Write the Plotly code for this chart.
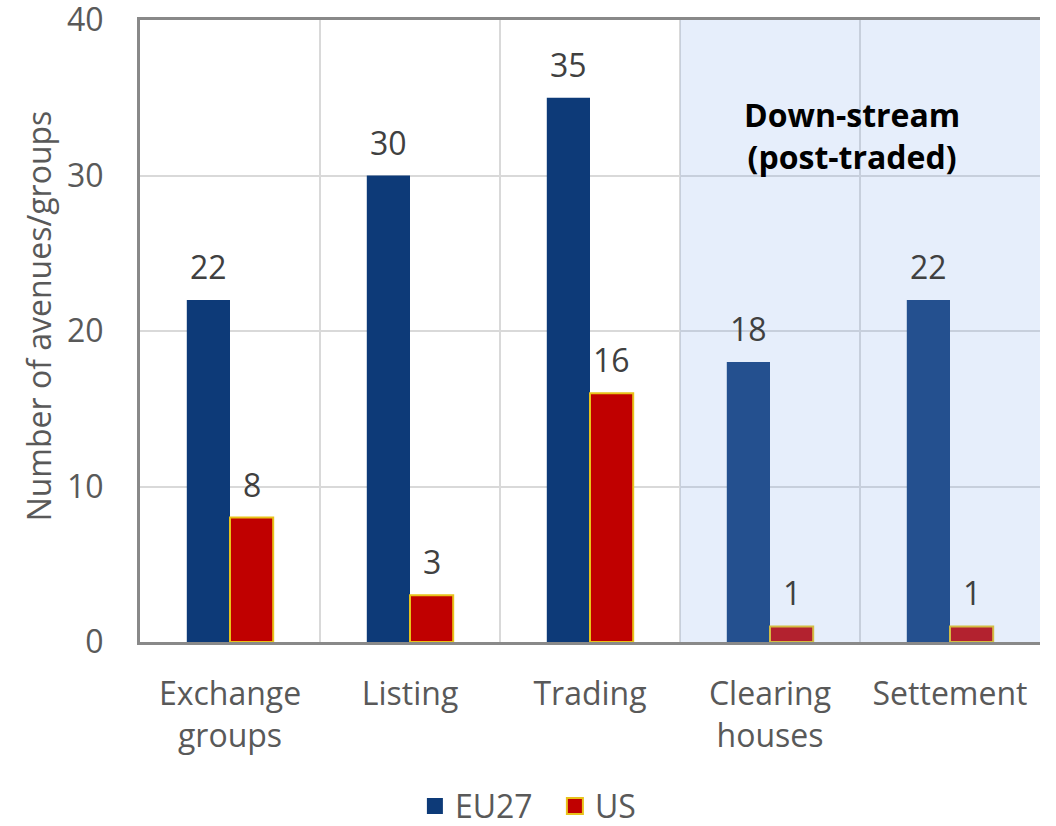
import plotly.graph_objects as go

categories = ["Exchange<br>groups", "Listing", "Trading", "Clearing<br>houses", "Settement"]
eu27 = [22, 30, 35, 18, 22]
us = [8, 3, 16, 1, 1]
y_ticks = [0, 10, 20, 30, 40]

FONT = "Open Sans"
FS = 32
EU_COLOR = "#0D3A78"
US_COLOR = "#C00000"
US_EDGE = "#E8C21A"

fig = go.Figure()
fig.add_trace(go.Bar(
    x=categories, y=eu27, name="EU27", showlegend=False,
    marker=dict(color=EU_COLOR, line=dict(width=0)),
))
fig.add_trace(go.Bar(
    x=categories, y=us, name="US", showlegend=False,
    marker=dict(color=US_COLOR, line=dict(width=2, color=US_EDGE)),
))

# legend entries with larger square symbols
fig.add_trace(go.Scatter(x=[None], y=[None], mode="markers", name="EU27",
                         marker=dict(symbol="square", size=16, color=EU_COLOR)))
fig.add_trace(go.Scatter(x=[None], y=[None], mode="markers", name="US",
                         marker=dict(symbol="square", size=16, color=US_COLOR,
                                     line=dict(width=2, color=US_EDGE))))

# data labels
for series, shift in ((eu27, -21.6), (us, 21.6)):
    for c, v in zip(categories, series):
        fig.add_annotation(x=c, y=v, xref="x", yref="y", text=str(v), showarrow=False,
                           xshift=shift, yshift=10, yanchor="bottom",
                           font=dict(size=FS, color="#404040", family=FONT))

fig.add_shape(type="rect", xref="x", yref="y", x0=2.5, x1=4.5, y0=0, y1=40,
              fillcolor="rgba(129,170,235,0.2)", line=dict(width=0), layer="above")

fig.add_annotation(x=3.455, y=32.6, xref="x", yref="y",
                   text="<b>Down-stream<br>(post-traded)</b>", showarrow=False,
                   font=dict(size=FS, color="#000000", family=FONT))

# y-axis title
fig.add_annotation(x=-0.113, y=0.524, xref="paper", yref="paper",
                   text="Number of avenues/groups", textangle=-90, showarrow=False,
                   xanchor="center", yanchor="middle",
                   font=dict(size=FS, color="#595959", family=FONT))

fig.update_layout(
    width=1056, height=826,
    margin=dict(l=140, r=16, t=20, b=184, autoexpand=False),
    paper_bgcolor="white", plot_bgcolor="white",
    barmode="group", bargap=0.52, bargroupgap=0,
    font=dict(family=FONT, color="#595959", size=FS),
    legend=dict(orientation="h", x=0.461, xanchor="center", y=-0.264, yanchor="middle",
                font=dict(size=FS, color="#595959"), traceorder="normal",
                itemwidth=30, entrywidth=95),
    showlegend=True,
)
fig.update_xaxes(
    tickson="boundaries", ticks="", ticklabelstandoff=22,
    showgrid=True, gridcolor="#D9D9D9", gridwidth=2,
    showline=True, linecolor="#898989", linewidth=3, mirror=True,
    tickfont=dict(size=FS, color="#595959"), range=[-0.5, 4.5],
    automargin=False,
)
fig.update_yaxes(
    range=[0, 40], tickvals=y_ticks, showgrid=True, gridcolor="#D9D9D9", gridwidth=2,
    showline=True, linecolor="#898989", linewidth=3,
    ticks="outside", ticklen=27, tickcolor="rgba(0,0,0,0)",
    ticklabeloverflow="allow",
    tickfont=dict(size=FS, color="#595959"),
    zeroline=False, automargin=False,
)

fig.write_html("out.html", config={"displayModeBar": False},
               post_script="document.body.style.margin='0px';")
